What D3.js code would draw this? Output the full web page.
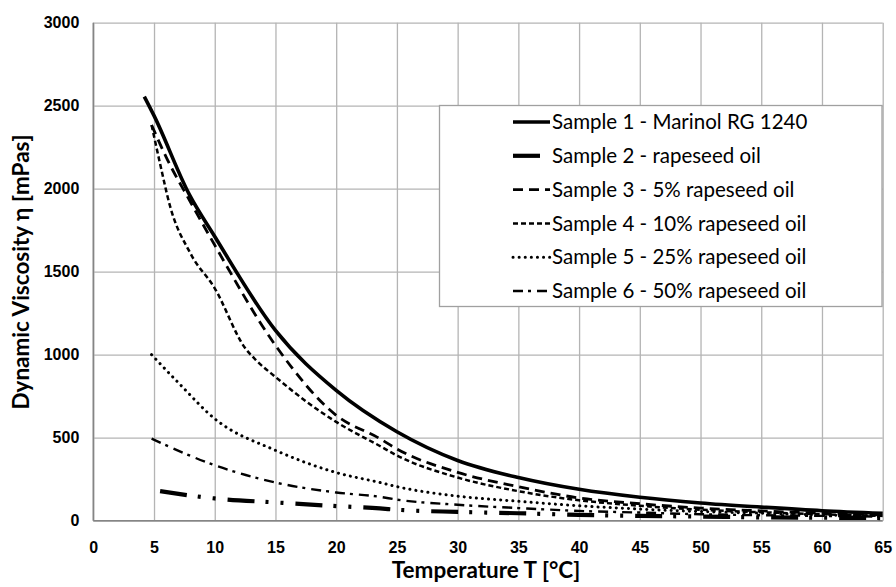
<!DOCTYPE html>
<html>
  <head>
    <title>Viscosity</title>
    <script src="https://d3js.org/d3.v7.min.js"></script>
    <style>
      body { margin: 0; background: #fff; }
      .grid .tick line { stroke: #b4b4b4; stroke-width: 1.3px; }
      .grid .domain { display: none; }
      .axis-line { stroke: #858585; stroke-width: 1.6px; }
      .axis__label {
        font-family: Lato, "Open Sans", sans-serif;
        font-weight: bold;
        font-size: 22.5px;
        text-anchor: middle;
        fill: #000;
      }
      .legend text {
        font-family: Lato, "Open Sans", sans-serif;
        font-size: 20.5px;
        fill: #000;
      }
      .curve { fill: none; stroke: #000; }
    </style>
  </head>
  <body>
    <svg width="896" height="587"></svg>
    <script>
      // values
      const xTicks = [0, 5, 10, 15, 20, 25, 30, 35, 40, 45, 50, 55, 60, 65];
      const yTicks = [0, 500, 1000, 1500, 2000, 2500, 3000];

      const s1Temp = [4.2, 5, 7.9, 10, 15, 20, 25, 30, 35, 40, 45, 50, 55, 60, 65];
      const s1Visc = [2555, 2440, 1966, 1712, 1146, 785, 536, 363, 260, 189, 141, 107, 82, 60, 45];

      const s2Temp = [5.5, 10, 15, 20, 23.6, 25, 30, 35, 40, 45, 50, 55, 60, 65];
      const s2Visc = [178, 134, 110, 88, 74, 66, 53, 45, 35, 29, 25, 20, 18, 16];

      const s3Temp = [4.8, 6, 8, 10, 15, 20, 23.6, 25, 30, 35, 40, 45, 50, 55, 60, 65];
      const s3Visc = [2384, 2190, 1920, 1660, 1056, 635, 494, 432, 291, 205, 137, 102, 76, 59, 45, 35];

      const s4Temp = [4.8, 5.5, 6.3, 8, 10, 12.5, 13.5, 15, 17.5, 20, 23.6, 25, 30, 35, 40, 45, 50, 55, 60, 65];
      const s4Visc = [2384, 2150, 1900, 1610, 1400, 1040, 960, 866, 720, 595, 450, 393, 260, 178, 123, 90, 66, 51, 39, 29];

      const s5Temp = [4.8, 7.1, 10, 15, 20, 23.6, 25, 30, 35, 40, 45, 50, 55, 60, 65];
      const s5Visc = [1000, 824, 614, 424, 290, 230, 205, 148, 117, 90, 70, 55, 45, 35, 29];

      const s6Temp = [4.8, 10, 15, 20, 23.6, 25, 30, 35, 40, 45, 50, 55, 60, 65];
      const s6Visc = [494, 334, 230, 170, 144, 127, 96, 76, 59, 49, 39, 33, 29, 25];

      const seriesNames = [
        "Sample 1 - Marinol RG 1240",
        "Sample 2 - rapeseed oil",
        "Sample 3 - 5% rapeseed oil",
        "Sample 4 - 10% rapeseed oil",
        "Sample 5 - 25% rapeseed oil",
        "Sample 6 - 50% rapeseed oil"
      ];

      const xLabel = "Temperature T [°C]";
      const yLabel = "Dynamic Viscosity η [mPas]";

      // line styles per series
      const styles = [
        {width: 3.6, dash: null, cap: "butt"},
        {width: 4.2, dash: "27,11,3,12,3,12", cap: "butt"},
        {width: 2.8, dash: "10,6", cap: "butt"},
        {width: 2.5, dash: "5,3", cap: "butt"},
        {width: 3, dash: "0.1,6", cap: "round"},
        {width: 2.4, dash: "10,5,3,6", cap: "butt"}
      ];

      const series = [
        [s1Temp, s1Visc], [s2Temp, s2Visc], [s3Temp, s3Visc],
        [s4Temp, s4Visc], [s5Temp, s5Visc], [s6Temp, s6Visc]
      ].map(([t, v], i) => ({
        name: seriesNames[i],
        style: styles[i],
        values: t.map((x, j) => ({t: x, v: v[j]}))
      }));

      const margin = {top: 22.7, right: 13.3, bottom: 66.3, left: 93.3};
      const svg = d3.select("svg");
      const width = +svg.attr("width");
      const height = +svg.attr("height");
      const innerWidth = width - margin.left - margin.right;
      const innerHeight = height - margin.top - margin.bottom;

      const xScale = d3.scaleLinear().domain([0, 65]).range([0, innerWidth]);
      const yScale = d3.scaleLinear().domain([0, 3000]).range([innerHeight, 0]);

      const g = svg.append("g")
          .attr("transform", `translate(${margin.left}, ${margin.top})`);

      const xAxisG = g.append("g")
          .attr("class", "grid")
          .attr("transform", `translate(0, ${innerHeight})`)
          .call(d3.axisBottom(xScale)
            .tickValues(xTicks)
            .tickFormat(d3.format("d"))
            .tickSizeInner(-innerHeight)
            .tickSizeOuter(0)
            .tickPadding(21));

      const yAxisG = g.append("g")
          .attr("class", "grid")
          .call(d3.axisLeft(yScale)
            .tickValues(yTicks)
            .tickFormat(d3.format("d"))
            .tickSizeInner(-innerWidth)
            .tickSizeOuter(0)
            .tickPadding(14));

      g.selectAll(".grid")
          .attr("font-family", "'Liberation Sans', Arial, sans-serif")
          .attr("font-size", 16)
          .attr("font-weight", "bold");
      g.selectAll(".grid .tick text").attr("fill", "#000");

      // darker axis lines
      g.append("line").attr("class", "axis-line")
          .attr("x1", 0).attr("x2", 0)
          .attr("y1", 0).attr("y2", innerHeight);
      g.append("line").attr("class", "axis-line")
          .attr("x1", 0).attr("x2", innerWidth)
          .attr("y1", innerHeight).attr("y2", innerHeight);

      const line = d3.line()
          .x(d => xScale(d.t))
          .y(d => yScale(d.v))
          .curve(d3.curveMonotoneX);

      g.selectAll("path.curve")
        .data(series)
        .enter().append("path")
          .attr("class", "curve")
          .attr("d", d => line(d.values))
          .attr("stroke-width", d => d.style.width)
          .attr("stroke-dasharray", d => d.style.dash)
          .attr("stroke-linecap", d => d.style.cap);

      // legend
      const legend = svg.append("g").attr("class", "legend");
      legend.append("rect")
          .attr("x", 439.5).attr("y", 105.5)
          .attr("width", 442.5).attr("height", 201)
          .attr("fill", "#fff")
          .attr("stroke", "#a0a0a0")
          .attr("stroke-width", 1.3);

      const rows = legend.selectAll("g.row")
        .data(series)
        .enter().append("g")
          .attr("class", "row")
          .attr("transform", (d, i) => `translate(0, ${122 + i * 33.8})`);
      rows.append("line")
          .attr("x1", 513).attr("x2", 550)
          .attr("y1", 0).attr("y2", 0)
          .attr("stroke", "#000")
          .attr("stroke-width", d => d.style.width)
          .attr("stroke-dasharray", d => d.style.dash)
          .attr("stroke-linecap", d => d.style.cap);
      rows.append("text")
          .attr("x", 552)
          .attr("dy", "0.35em")
          .text(d => d.name);

      // axis titles
      svg.append("text")
          .attr("class", "axis__label")
          .attr("x", 486)
          .attr("y", 578)
          .text(xLabel);

      svg.append("text")
          .attr("class", "axis__label")
          .attr("transform", "rotate(-90)")
          .attr("x", -272)
          .attr("y", 29)
          .text(yLabel);
    </script>
  </body>
</html>
